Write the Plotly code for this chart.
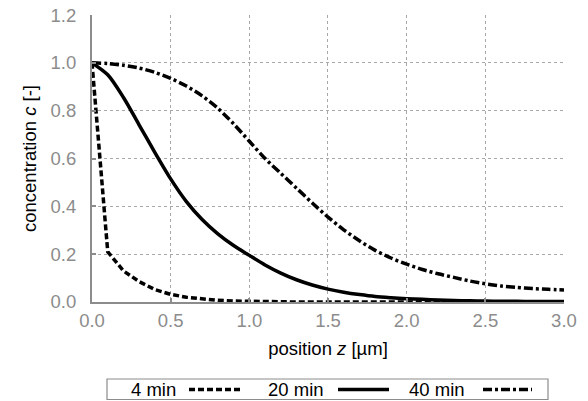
import plotly.graph_objects as go

# position z [µm]
z = [0.0, 0.1, 0.2, 0.3, 0.4, 0.5, 0.6, 0.7, 0.8, 0.9, 1.0,
     1.1, 1.2, 1.3, 1.4, 1.5, 1.6, 1.7, 1.8, 1.9, 2.0,
     2.1, 2.2, 2.3, 2.4, 2.5, 2.6, 2.7, 2.8, 2.9, 3.0]

c_4min = [1.0, 0.21, 0.13, 0.085, 0.052, 0.032, 0.020, 0.012, 0.007, 0.004, 0.002,
          0.001, 0.001, 0.0, 0.0, 0.0, 0.0, 0.0, 0.0, 0.0, 0.0,
          0.0, 0.0, 0.0, 0.0, 0.0, 0.0, 0.0, 0.0, 0.0, 0.0]

c_20min = [1.0, 0.95, 0.855, 0.74, 0.625, 0.515, 0.42, 0.345, 0.285, 0.236, 0.195,
           0.155, 0.121, 0.093, 0.071, 0.054, 0.041, 0.031, 0.023, 0.018, 0.014,
           0.011, 0.008, 0.006, 0.005, 0.004, 0.003, 0.003, 0.002, 0.002, 0.002]

c_40min = [1.0, 0.997, 0.99, 0.978, 0.96, 0.935, 0.903, 0.862, 0.81, 0.745, 0.672,
           0.60, 0.538, 0.476, 0.414, 0.355, 0.302, 0.256, 0.216, 0.184, 0.158,
           0.136, 0.118, 0.103, 0.088, 0.076, 0.067, 0.061, 0.056, 0.053, 0.05]

series_names = ["4 min", "20 min", "40 min"]
series_values = [c_4min, c_20min, c_40min]
series_dash = ["6px,3px", "solid", "9px,3px,3px,3px"]
series_shape = ["linear", "spline", "spline"]

x_ticks = [0.0, 0.5, 1.0, 1.5, 2.0, 2.5, 3.0]
y_ticks = [0.0, 0.2, 0.4, 0.6, 0.8, 1.0, 1.2]

FONT = "Liberation Sans, Arial, Helvetica, sans-serif"
GRAY = "#8c8c8c"

fig = go.Figure()
for name, vals, dash, shape in zip(series_names, series_values, series_dash, series_shape):
    fig.add_trace(go.Scatter(
        x=z, y=vals, name=name, mode="lines",
        line=dict(color="black", width=3.5, dash=dash, shape=shape, smoothing=0.8),
        showlegend=False,
    ))

# body margin is removed by the post script, so the figure starts at (0, 0)
W, H = 588, 401
L, R, T, B = 92, 24, 15, 99
pw, ph = W - L - R, H - T - B

def px(xp):  # page pixel -> paper x
    return (xp - L) / pw

def py(yp):  # page pixel -> paper y
    return (H - B - yp) / ph

# custom legend (text before line sample, as in the reference)
shapes = [dict(type="rect", xref="paper", yref="paper",
               x0=px(107), x1=px(548), y0=py(399.5), y1=py(379),
               line=dict(color=GRAY, width=1.2), fillcolor="white")]
annotations = []
legend_text_x = [129, 266, 407]
legend_line_x = [(189, 240), (338, 389), (483, 532)]
ly = 389.5
for name, dash, tx, (lx0, lx1) in zip(series_names, series_dash, legend_text_x, legend_line_x):
    annotations.append(dict(text=name, xref="paper", yref="paper", x=px(tx), y=py(ly),
                            xanchor="left", yanchor="middle", showarrow=False,
                            font=dict(family=FONT, size=18.5, color="black")))
    shapes.append(dict(type="line", xref="paper", yref="paper",
                       x0=px(lx0), x1=px(lx1), y0=py(ly), y1=py(ly),
                       line=dict(color="black", width=3.5, dash=dash)))

axis_common = dict(
    showline=True, linecolor=GRAY, linewidth=2,
    ticks="inside", ticklen=4, tickcolor=GRAY, tickwidth=1.5,
    showgrid=True, gridcolor="#a8a8a8", gridwidth=1, griddash="3px,3px",
    zeroline=False, tickformat=".1f", automargin=False,
    ticklabeloverflow="allow",
    tickfont=dict(family=FONT, size=18.5, color=GRAY),
)

fig.update_layout(
    width=W, height=H,
    margin=dict(l=L, r=R, t=T, b=B, autoexpand=False),
    paper_bgcolor="white", plot_bgcolor="white",
    font=dict(family=FONT, size=18.5, color="black"),
    xaxis=dict(range=[0, 3.0001], tickvals=x_ticks, ticklabelstandoff=1,
               title=dict(text="position <i>z</i> [µm]", standoff=12,
                          font=dict(family=FONT, size=18.5, color="black")),
               **axis_common),
    yaxis=dict(range=[0, 1.2001], tickvals=y_ticks, ticklabelstandoff=10,
               title=dict(text="concentration <i>c</i> [-]", standoff=9,
                          font=dict(family=FONT, size=18.5, color="black")),
               **axis_common),
    shapes=shapes,
    annotations=annotations,
)

fig.write_html("out.html",
               config={"displayModeBar": False},
               post_script="document.body.style.margin='0';document.body.style.padding='0';")
